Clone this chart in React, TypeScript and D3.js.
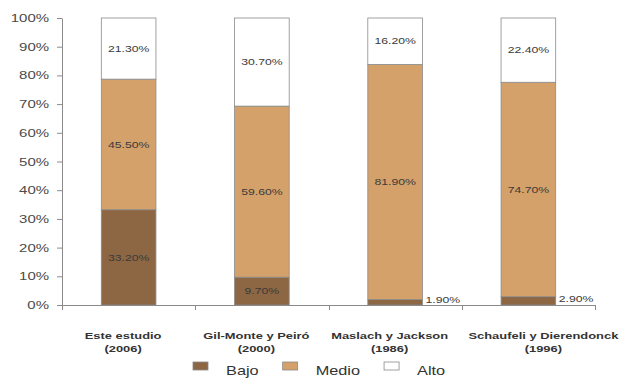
import React, { useEffect, useRef } from "react";
import * as d3 from "d3";

// Burnout level distribution across studies (percent of sample)
const categoryNames = ["Este estudio", "Gil-Monte y Peiró", "Maslach y Jackson", "Schaufeli y Dierendonck"];
const categoryYears = ["(2006)", "(2000)", "(1986)", "(1996)"];
const seriesNames = ["Bajo", "Medio", "Alto"];
const bajo = [33.2, 9.7, 1.9, 2.9];
const medio = [45.5, 59.6, 81.9, 74.7];
const alto = [21.3, 30.7, 16.2, 22.4];
const yTicks = [0, 10, 20, 30, 40, 50, 60, 70, 80, 90, 100];

const W = 620;
const H = 380;
const STRETCH = 1.36; // text is drawn horizontally widened
const FONT = "'Liberation Sans', Arial, sans-serif";
const COLORS: Record<string, string> = { Bajo: "#8D6743", Medio: "#D4A16A", Alto: "#FFFFFF" };
const LABEL_NUDGE = [-5.5, -5.5, -5.5, 15];

export default function App() {
  const ref = useRef<SVGSVGElement>(null);

  useEffect(() => {
    const svg = d3.select(ref.current);
    svg.selectAll("*").remove();

    const plotLeft = 62;
    const plotRight = 595;
    const plotTop = 18;
    const plotBottom = 305;

    const x = d3.scaleBand<string>().domain(categoryNames).range([plotLeft, plotRight]);
    const y = d3.scaleLinear().domain([0, 100]).range([plotBottom, plotTop]);

    const rows = categoryNames.map((c, i) => ({ cat: c, Bajo: bajo[i], Medio: medio[i], Alto: alto[i] }));
    const layers = d3.stack<any>().keys(seriesNames)(rows);
    const barW = x.bandwidth() * 0.41;
    const barX = (c: string) => (x(c) as number) + (x.bandwidth() - barW) / 2;

    // stacked bars
    const bars = svg.append("g");
    layers.forEach((layer) => {
      bars
        .selectAll(null)
        .data(layer)
        .enter()
        .append("rect")
        .attr("x", (d: any) => barX(d.data.cat))
        .attr("y", (d: any) => y(d[1]))
        .attr("width", barW)
        .attr("height", (d: any) => y(d[0]) - y(d[1]))
        .attr("fill", COLORS[layer.key])
        .attr("stroke", "#8a8a8a")
        .attr("stroke-width", 0.8);
    });

    // value labels
    const labels = svg.append("g").attr("font-family", FONT).attr("font-size", 9).attr("fill", "#3a3a3a");
    layers.forEach((layer) => {
      layer.forEach((d: any) => {
        const v = d[1] - d[0];
        const top = y(d[1]);
        const bottom = y(d[0]);
        const h = bottom - top;
        const txt = v.toFixed(2) + "%";
        if (h < 12) {
          labels
            .append("g")
            .attr("transform", `translate(${barX(d.data.cat) + barW + 3},${(top + bottom) / 2 - 2}) scale(${STRETCH},1)`)
            .append("text")
            .attr("dy", "0.35em")
            .attr("text-anchor", "start")
            .text(txt);
        } else {
          labels
            .append("g")
            .attr("transform", `translate(${barX(d.data.cat) + barW / 2},${(top + bottom) / 2}) scale(${STRETCH},1)`)
            .append("text")
            .attr("dy", "0.35em")
            .attr("text-anchor", "middle")
            .text(txt);
        }
      });
    });

    // y axis
    const yAxis = d3
      .axisLeft(y)
      .tickValues(yTicks)
      .tickFormat((d) => `${d}%`)
      .tickSize(5)
      .tickSizeOuter(0);
    const gy = svg.append("g").attr("transform", `translate(${plotLeft},0)`).call(yAxis);
    gy.select(".domain").attr("stroke", "#8a8a8a");
    gy.selectAll(".tick line").attr("stroke", "#8a8a8a");
    gy.selectAll(".tick text")
      .attr("font-family", FONT)
      .attr("font-size", 11)
      .attr("fill", "#4a4a4a")
      .attr("x", -13 / STRETCH)
      .attr("transform", `scale(${STRETCH},1)`);

    // x axis: baseline with ticks at category boundaries
    const gx = svg.append("g").attr("stroke", "#8a8a8a").attr("stroke-width", 1);
    gx.append("line")
      .attr("x1", plotLeft)
      .attr("x2", plotRight)
      .attr("y1", y(0) + 0.5)
      .attr("y2", y(0) + 0.5);
    const bounds = [...categoryNames.map((c) => x(c) as number), plotRight];
    gx.selectAll(null)
      .data(bounds)
      .enter()
      .append("line")
      .attr("x1", (d) => Math.round(d) + 0.5)
      .attr("x2", (d) => Math.round(d) + 0.5)
      .attr("y1", y(0))
      .attr("y2", y(0) + 5);

    // category labels
    const cats = svg.append("g").attr("font-family", FONT).attr("font-weight", "bold").attr("font-size", 9.5).attr("fill", "#333");
    categoryNames.forEach((c, i) => {
      const cx = (x(c) as number) + x.bandwidth() / 2 + LABEL_NUDGE[i];
      cats
        .append("g")
        .attr("transform", `translate(${cx},338.5) scale(${STRETCH},1)`)
        .append("text")
        .attr("text-anchor", "middle")
        .text(c);
      cats
        .append("g")
        .attr("transform", `translate(${cx},351.5) scale(${STRETCH},1)`)
        .append("text")
        .attr("text-anchor", "middle")
        .text(categoryYears[i]);
    });

    // legend
    const legend = svg.append("g").attr("font-family", FONT).attr("font-size", 12).attr("fill", "#333");
    let lx = 193;
    seriesNames.forEach((s) => {
      legend
        .append("rect")
        .attr("x", lx)
        .attr("y", 362)
        .attr("width", 15)
        .attr("height", 8)
        .attr("fill", COLORS[s])
        .attr("stroke", "#8a8a8a")
        .attr("stroke-width", 0.8);
      const t = legend
        .append("g")
        .attr("transform", `translate(${lx + 33},374.5) scale(${STRETCH},1)`)
        .append("text")
        .text(s);
      const w = (t.node() as SVGTextElement).getComputedTextLength() * STRETCH;
      lx = lx + 33 + w + 24;
    });
  }, []);

  return (
    <div style={{ position: "absolute", left: 0, top: 0, width: W, height: H, background: "#fff" }}>
      <svg ref={ref} width={W} height={H} style={{ display: "block" }} />
    </div>
  );
}
